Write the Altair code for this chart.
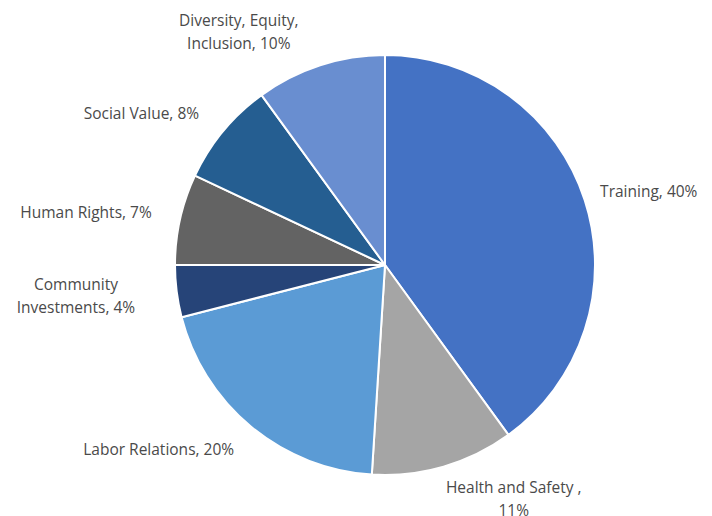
import altair as alt
import pandas as pd

categories = [
    "Training, 40%",
    "Health and Safety ,\n11%",
    "Labor Relations, 20%",
    "Community\nInvestments, 4%",
    "Human Rights, 7%",
    "Social Value, 8%",
    "Diversity, Equity,\nInclusion, 10%",
]
values = [40, 11, 20, 4, 7, 8, 10]
colors = ["#4472C4", "#A5A5A5", "#5B9BD5", "#264478", "#636363", "#255E91", "#698ED0"]

df = pd.DataFrame({"label": categories, "value": values, "idx": list(range(len(values)))})

CX, CY = 377, 257
R = 210
LR = 250
# label nudges (style only)
offsets = [(26, 4), (59, -17), (-67, -8), (-61, -11), (-55, 3), (-51, 8), (-69, -6)]

base = alt.Chart(df)

pie = base.mark_arc(stroke="white", strokeWidth=2).encode(
    theta=alt.Theta("value:Q", stack=True),
    order=alt.Order("idx:Q"),
    color=alt.Color("label:N", scale=alt.Scale(domain=categories, range=colors), legend=None),
    x=alt.value(CX),
    y=alt.value(CY),
    radius=alt.value(R),
)

layers = [pie]
for i, (dx, dy) in enumerate(offsets):
    t = base.mark_text(
        font="Open Sans", fontSize=15.5, color="#4a4a4a", align="center",
        baseline="middle", lineBreak="\n", lineHeight=23, dx=dx, dy=dy,
    ).encode(
        theta=alt.Theta("value:Q", stack=True),
        order=alt.Order("idx:Q"),
        text=alt.Text("label:N"),
        x=alt.value(CX),
        y=alt.value(CY),
        radius=alt.value(LR),
        opacity=alt.condition(alt.datum.idx == i, alt.value(1), alt.value(0)),
    )
    layers.append(t)

chart = alt.layer(*layers).properties(
    width=696, height=512, padding=0, autosize=alt.AutoSizeParams(type="none")
).configure_view(stroke=None)

chart.save("out.html", embed_options={"renderer": "svg", "actions": False})
